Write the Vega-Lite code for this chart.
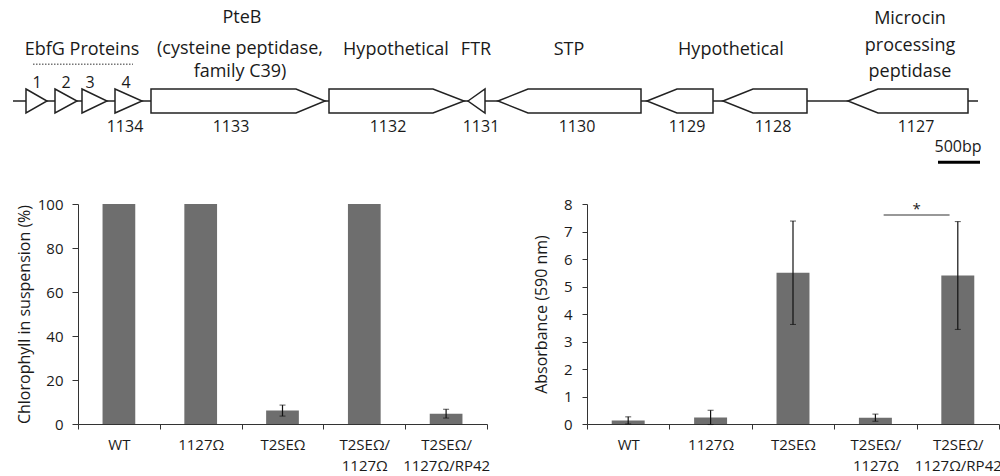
{
  "$schema": "https://vega.github.io/schema/vega-lite/v6.json",
  "padding": {"left": 12, "top": 0, "right": 0, "bottom": 0},
  "background": "white",
  "config": {
    "view": {"stroke": null},
    "font": "Open Sans",
    "text": {"color": "#222"},
    "axis": {
      "grid": false,
      "domainColor": "#333",
      "tickColor": "#333",
      "labelColor": "#1a1a1a",
      "titleColor": "#1a1a1a",
      "labelFont": "Open Sans",
      "titleFont": "Open Sans",
      "labelFontSize": 15,
      "titleFontSize": 16,
      "titleFontWeight": "normal"
    }
  },
  "spacing": 27,
  "vconcat": [
    {
      "width": 922,
      "height": 170,
      "encoding": {
        "x": {"field": "bp", "type": "quantitative", "scale": {"domain": [780, 11844], "nice": false, "zero": false}, "axis": null},
        "y": {"field": "u", "type": "quantitative", "scale": {"domain": [-5.75, 8.4167], "nice": false, "zero": false}, "axis": null}
      },
      "layer": [
        {
          "data": {"values": [{"bp": 0, "bp2": 11580, "u": 0}]},
          "mark": {"type": "rule", "color": "#222", "strokeWidth": 1.5},
          "encoding": {"x2": {"field": "bp2"}}
        },
        {
          "data": {"values": [
            {"gene": "EbfG1", "bp": 156, "u": 1, "u2": -1},
            {"gene": "EbfG1", "bp": 408, "u": 0, "u2": 0},
            {"gene": "EbfG2", "bp": 504, "u": 1, "u2": -1},
            {"gene": "EbfG2", "bp": 768, "u": 0, "u2": 0},
            {"gene": "EbfG3", "bp": 828, "u": 1, "u2": -1},
            {"gene": "EbfG3", "bp": 1128, "u": 0, "u2": 0},
            {"gene": "EbfG4", "bp": 1224, "u": 1, "u2": -1},
            {"gene": "EbfG4", "bp": 1548, "u": 0, "u2": 0},
            {"gene": "1133", "bp": 1656, "u": 1, "u2": -1},
            {"gene": "1133", "bp": 3396, "u": 1, "u2": -1},
            {"gene": "1133", "bp": 3744, "u": 0, "u2": 0},
            {"gene": "1132", "bp": 3792, "u": 1, "u2": -1},
            {"gene": "1132", "bp": 5040, "u": 1, "u2": -1},
            {"gene": "1132", "bp": 5412, "u": 0, "u2": 0},
            {"gene": "1131", "bp": 5460, "u": 0, "u2": 0},
            {"gene": "1131", "bp": 5664, "u": 1, "u2": -1},
            {"gene": "1130", "bp": 5820, "u": 0, "u2": 0},
            {"gene": "1130", "bp": 6180, "u": 1, "u2": -1},
            {"gene": "1130", "bp": 7536, "u": 1, "u2": -1},
            {"gene": "1129", "bp": 7608, "u": 0, "u2": 0},
            {"gene": "1129", "bp": 7968, "u": 1, "u2": -1},
            {"gene": "1129", "bp": 8400, "u": 1, "u2": -1},
            {"gene": "1128", "bp": 8520, "u": 0, "u2": 0},
            {"gene": "1128", "bp": 8880, "u": 1, "u2": -1},
            {"gene": "1128", "bp": 9528, "u": 1, "u2": -1},
            {"gene": "1127", "bp": 10020, "u": 0, "u2": 0},
            {"gene": "1127", "bp": 10380, "u": 1, "u2": -1},
            {"gene": "1127", "bp": 11460, "u": 1, "u2": -1}
          ]},
          "mark": {"type": "area", "fill": "white", "stroke": "#222", "strokeWidth": 1.5, "strokeJoin": "miter"},
          "encoding": {"y2": {"field": "u2"}, "detail": {"field": "gene", "type": "nominal"}}
        },
        {
          "data": {"values": [{"bp": 240, "bp2": 1440, "u": 3.06}]},
          "mark": {"type": "rule", "color": "#777", "strokeWidth": 1.5, "strokeDash": [1.5, 1.5]},
          "encoding": {"x2": {"field": "bp2"}}
        },
        {
          "data": {"values": [{"bp": 11100, "bp2": 11604, "u": -5.11}]},
          "mark": {"type": "rule", "color": "#000", "strokeWidth": 3},
          "encoding": {"x2": {"field": "bp2"}}
        },
        {
          "data": {"values": [
            {"label": "EbfG Proteins", "bp": 828, "u": 3.83},
            {"label": "PteB", "bp": 2748, "u": 6.5},
            {"label": "(cysteine peptidase,", "bp": 2724, "u": 3.9},
            {"label": "family C39)", "bp": 2724, "u": 1.98},
            {"label": "Hypothetical", "bp": 4596, "u": 3.83},
            {"label": "FTR", "bp": 5556, "u": 3.83},
            {"label": "STP", "bp": 6672, "u": 3.83},
            {"label": "Hypothetical", "bp": 8616, "u": 3.83},
            {"label": "Microcin", "bp": 10764, "u": 6.42},
            {"label": "processing", "bp": 10764, "u": 4.2},
            {"label": "peptidase", "bp": 10764, "u": 2.0}
          ]},
          "mark": {"type": "text", "fontSize": 18, "baseline": "alphabetic", "align": "center", "color": "#1a1a1a"},
          "encoding": {"text": {"field": "label"}}
        },
        {
          "data": {"values": [
            {"label": "1", "bp": 288, "u": 1.125},
            {"label": "2", "bp": 636, "u": 1.125},
            {"label": "3", "bp": 924, "u": 1.125},
            {"label": "4", "bp": 1356, "u": 1.125},
            {"label": "1134", "bp": 1344, "u": -2.56},
            {"label": "1133", "bp": 2616, "u": -2.56},
            {"label": "1132", "bp": 4500, "u": -2.56},
            {"label": "1131", "bp": 5616, "u": -2.56},
            {"label": "1130", "bp": 6768, "u": -2.56},
            {"label": "1129", "bp": 8088, "u": -2.56},
            {"label": "1128", "bp": 9120, "u": -2.56},
            {"label": "1127", "bp": 10836, "u": -2.56},
            {"label": "500bp", "bp": 11340, "u": -4.22}
          ]},
          "mark": {"type": "text", "fontSize": 16, "baseline": "alphabetic", "align": "center", "color": "#1a1a1a"},
          "encoding": {"text": {"field": "label"}}
        }
      ]
    },
    {
      "spacing": 43,
      "hconcat": [
        {
          "width": 409,
          "height": 220,
          "data": {"values": [
            {"strain": "WT", "value": 100, "err": 0},
            {"strain": "1127Ω", "value": 100, "err": 0},
            {"strain": "T2SEΩ", "value": 6.1, "err": 2.5},
            {"strain": "T2SEΩ/1127Ω", "value": 100, "err": 0},
            {"strain": "T2SEΩ/1127Ω/RP42", "value": 4.7, "err": 2.0}
          ]},
          "encoding": {
            "x": {
              "field": "strain", "type": "nominal",
              "scale": {"domain": ["WT", "1127Ω", "T2SEΩ", "T2SEΩ/1127Ω", "T2SEΩ/1127Ω/RP42"], "paddingInner": 0, "paddingOuter": 0},
              "axis": {"title": null, "labelAngle": 0, "tickBand": "extent", "tickSize": 5, "labelPadding": 8, "labelLineHeight": 21,
                       "labelExpr": "indexof(datum.label, '/') > 0 ? [substring(datum.label, 0, indexof(datum.label, '/') + 1), substring(datum.label, indexof(datum.label, '/') + 1)] : datum.label"}
            },
            "y": {"field": "value", "type": "quantitative", "title": "Chlorophyll in suspension (%)", "scale": {"domain": [0, 100]},
                  "axis": {"values": [0, 20, 40, 60, 80, 100], "tickSize": 6, "labelPadding": 9, "titlePadding": 5}}
          },
          "layer": [
            {
              "mark": {"type": "bar", "color": "#6e6e6e", "width": {"band": 0.4}}
            },
            {
              "transform": [{"filter": "datum.err > 0"}],
              "mark": {"type": "errorbar", "ticks": {"size": 6, "color": "#111"}, "rule": {"color": "#111", "strokeWidth": 1.2}},
              "encoding": {
                "yError": {"field": "err"}
              }
            }
          ]
        },
        {
          "width": 412,
          "height": 220,
          "data": {"values": [
            {"strain": "WT", "value": 0.13, "err": 0.13},
            {"strain": "1127Ω", "value": 0.24, "err": 0.26},
            {"strain": "T2SEΩ", "value": 5.5, "err": 1.88},
            {"strain": "T2SEΩ/1127Ω", "value": 0.23, "err": 0.13},
            {"strain": "T2SEΩ/1127Ω/RP42", "value": 5.4, "err": 1.96}
          ]},
          "encoding": {
            "x": {
              "field": "strain", "type": "nominal",
              "scale": {"domain": ["WT", "1127Ω", "T2SEΩ", "T2SEΩ/1127Ω", "T2SEΩ/1127Ω/RP42"], "paddingInner": 0, "paddingOuter": 0},
              "axis": {"title": null, "labelAngle": 0, "tickBand": "extent", "tickSize": 5, "labelPadding": 8, "labelLineHeight": 21,
                       "labelExpr": "indexof(datum.label, '/') > 0 ? [substring(datum.label, 0, indexof(datum.label, '/') + 1), substring(datum.label, indexof(datum.label, '/') + 1)] : datum.label"}
            },
            "y": {"field": "value", "type": "quantitative", "title": "Absorbance (590 nm)", "scale": {"domain": [0, 8]},
                  "axis": {"values": [0, 1, 2, 3, 4, 5, 6, 7, 8], "tickSize": 5, "labelPadding": 10, "titlePadding": 14}}
          },
          "layer": [
            {
              "mark": {"type": "bar", "color": "#6e6e6e", "width": {"band": 0.4}}
            },
            {
              "mark": {"type": "errorbar", "ticks": {"size": 6, "color": "#111"}, "rule": {"color": "#111", "strokeWidth": 1.2}},
              "encoding": {
                "yError": {"field": "err"}
              }
            },
            {
              "data": {"values": [{"strain": "T2SEΩ/1127Ω", "to": "T2SEΩ/1127Ω/RP42", "value": 7.6, "star": "*"}]},
              "layer": [
                {
                  "mark": {"type": "rule", "color": "#333", "strokeWidth": 1.2},
                  "encoding": {
                    "x": {"field": "strain", "type": "nominal", "bandPosition": 0.6},
                    "x2": {"field": "to", "bandPosition": 0.4}
                  }
                },
                {
                  "mark": {"type": "text", "fontSize": 15, "baseline": "alphabetic", "align": "center", "dy": -1, "color": "#1a1a1a"},
                  "encoding": {
                    "x": {"field": "to", "type": "nominal", "bandPosition": 0},
                    "text": {"field": "star"}
                  }
                }
              ]
            }
          ]
        }
      ]
    }
  ]
}
